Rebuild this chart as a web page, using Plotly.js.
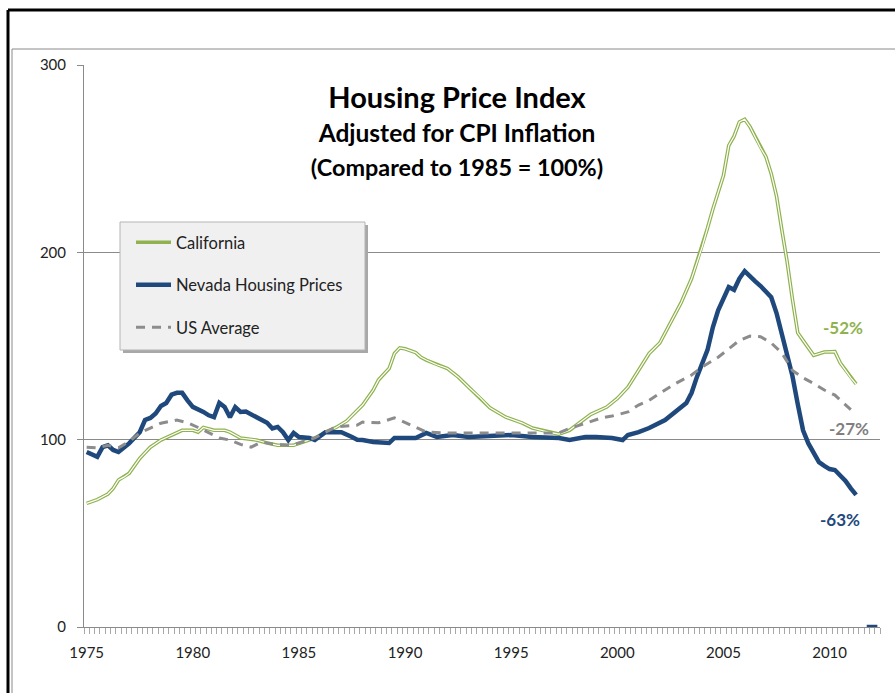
<!DOCTYPE html>
<html><head><meta charset="utf-8">
<script src="https://cdn.plot.ly/plotly-3.0.1.min.js"></script>
<style>html,body{margin:0;padding:0;background:#fff}#chart{width:895px;height:693px}</style>
</head><body><div id="chart"></div>
<script>
// ---- Data ----
const caYears = [1975.0,1975.5,1976.0,1976.25,1976.5,1976.75,1977.0,1977.25,1977.5,1977.75,
  1978.0,1978.5,1979.0,1979.5,1980.0,1980.25,1980.5,1981.0,1981.5,1981.75,
  1982.25,1983.0,1983.5,1984.0,1984.75,1985.25,1985.75,1986.25,1986.75,1987.25,
  1987.5,1987.75,1988.0,1988.5,1988.75,1989.25,1989.5,1989.75,1990.0,1990.5,
  1990.75,1991.0,1991.5,1992.0,1992.5,1993.0,1993.5,1994.0,1994.75,1995.5,
  1996.0,1996.75,1997.25,1997.75,1998.25,1998.75,1999.5,2000.0,2000.5,2001.0,
  2001.5,2002.0,2002.5,2003.0,2003.5,2004.0,2004.25,2004.5,2005.0,2005.25,
  2005.5,2005.75,2006.0,2006.25,2006.75,2007.0,2007.25,2007.5,2007.75,2008.0,
  2008.25,2008.5,2008.75,2009.25,2009.75,2010.25,2010.5,2010.75,2011.0,2011.25];
const caValues = [66,68,71,74,78.5,80,82,86,90,93,
  96,99.8,102.5,105,105,104,106.5,105,105,104,
  100.9,99.8,98.2,97,97,98.8,100.9,104,106.5,110,
  113,116,118.5,126.5,131.9,138,146,149,148.5,146.5,
  144,142.5,140,138,133.5,128,122.8,117,112,109,
  106.2,104,103,105,109.4,113.5,117.4,122,128,137,
  146,151.6,162,173,186,203,213,223,241,257,
  262,269.6,271,267,255.7,251,242,230,212,195,
  175,157,153,145,146.8,147,141,137,133,129.7];

const nvYears = [1975.0,1975.5,1975.75,1976.0,1976.25,1976.5,1977.0,1977.5,1977.75,1978.0,
  1978.25,1978.5,1978.75,1979.0,1979.25,1979.5,1979.75,1980.0,1980.5,1980.75,
  1981.0,1981.25,1981.5,1981.75,1982.0,1982.25,1982.5,1982.75,1983.0,1983.25,
  1983.5,1983.75,1984.0,1984.25,1984.5,1984.75,1985.0,1985.5,1985.75,1986.25,
  1986.5,1986.75,1987.0,1987.5,1987.75,1988.0,1988.5,1989.25,1989.5,1990.5,
  1991.0,1991.5,1992.25,1993.0,1993.75,1995.0,1996.0,1996.5,1997.25,1997.75,
  1998.5,1999.0,1999.75,2000.25,2000.5,2001.0,2001.5,2002.25,2002.75,2003.25,
  2003.5,2003.75,2004.25,2004.5,2004.75,2005.0,2005.25,2005.5,2005.75,2006.0,
  2006.25,2006.5,2006.75,2007.0,2007.25,2007.5,2007.75,2008.0,2008.25,2008.5,
  2008.75,2009.0,2009.25,2009.5,2009.75,2010.0,2010.25,2010.5,2010.75,2011.0,
  2011.25,2011.5,2011.75,2012.0,2012.25];
const nvValues = [93.4,90.8,96,97,94.5,93.4,98,104,110.5,111.6,
  114,118,119.6,124,125,125,121,117.5,114.8,113,
  112,119.6,117.4,112,117.4,114.8,115,113.5,112,110.5,
  109,106,106.8,104,99.8,103.6,101.4,100.9,99.8,104,
  104,103.6,104,101.4,100,99.8,98.8,98.2,100.9,100.9,
  103.6,101.4,102.5,101.4,102,102.5,101.4,101.4,100.9,99.8,
  101.4,101.4,100.9,99.8,102.5,104,106.2,110.5,114.8,119.6,
  125,133.5,147.9,160,169,175,181.5,180,186,190,
  187,184.5,182,179,176,167.6,156,146,134,119,
  105,98,92.5,88,86,84.3,83.8,81,78,74,
  70.5,null,0,0,0];

const usYears = [1975.0,1975.5,1976.0,1976.5,1977.0,1977.5,1978.0,1978.5,1979.25,1979.75,
  1980.25,1980.5,1981.25,1981.75,1982.25,1982.75,1983.25,1983.75,1984.5,1985.0,
  1985.75,1986.25,1986.75,1987.75,1988.0,1988.75,1989.5,1989.75,1990.5,1991.0,
  1992.0,1993.0,1994.0,1995.5,1996.75,1997.25,1997.75,1998.5,1999.25,1999.75,
  2000.5,2001.0,2001.5,2002.25,2002.75,2003.5,2004.0,2004.75,2005.5,2005.75,
  2006.25,2006.75,2007.25,2007.75,2008.25,2008.75,2009.25,2009.75,2010.25,2010.75,
  2011.0];
const usValues = [96,95.6,97,95.6,99,103.6,106.2,108.8,110.5,109,
  106.5,105,100.9,99.8,97.5,96,98.8,97.7,97,98.2,
  100.9,104,106.8,107.8,109.4,109,111.6,110.5,106.8,104,
  103.6,103.6,103.6,104,103.6,103.6,106,109,111.6,112.6,
  114.8,118.5,121,126.5,130,134.5,138.8,144,150.5,153,
  155.3,155,151.6,146.3,137,133,130,126.5,123.8,118.5,
  116];

const seriesNames = ["California", "Nevada Housing Prices", "US Average"];
const tickYears = [1975,1980,1985,1990,1995,2000,2005,2010];
const tickLabels = ["1975","1980","1985","1990","1995","2000","2005","2010"];
const yTicks = [0,100,200,300];
const changeLabels = ["-52%", "-27%", "-63%"];
const titleLines = ["Housing Price Index", "Adjusted for CPI Inflation", "(Compared to 1985 = 100%)"];

// ---- Layout geometry (pixels) ----
const FW = 895, FH = 693;
const ML = 84, MR = 15, MT = 65, MB = 66;
const PW = FW - ML - MR, PH = FH - MT - MB;
const px = x => (x - ML) / PW;
const py = y => (FH - MB - y) / PH;

const FONT = "Lato, 'Open Sans', sans-serif";
const green = "#8fb24e", blue = "#1f497d", grey = "#8c8c8c";

const traces = [
  {x: caYears, y: caValues, name: seriesNames[0], type: "scatter", mode: "lines",
   line: {color: green, width: 3.6}, legendgroup: "ca", hoverinfo: "x+y+name"},
  {x: caYears, y: caValues, name: seriesNames[0], type: "scatter", mode: "lines",
   line: {color: "#ffffff", width: 1.2}, legendgroup: "ca", showlegend: false, hoverinfo: "skip"},
  {x: nvYears, y: nvValues, name: seriesNames[1], type: "scatter", mode: "lines",
   line: {color: blue, width: 4.5}, legendgroup: "nv", connectgaps: false},
  {x: usYears, y: usValues, name: seriesNames[2], type: "scatter", mode: "lines",
   line: {color: grey, width: 3, dash: "9px,7px"}, legendgroup: "us"}
];

const lineShape = (x0, y0, x1, y1, color, width) => ({
  type: "line", xref: "paper", yref: "paper", x0: px(x0), y0: py(y0), x1: px(x1), y1: py(y1),
  line: {color: color, width: width}, layer: "above"});

const rectShape = (x0, y0, x1, y1, fill, lineColor, lineWidth) => ({
  type: "rect", xref: "paper", yref: "paper", x0: px(x0), y0: py(y0), x1: px(x1), y1: py(y1),
  fillcolor: fill, line: {color: lineColor, width: lineWidth}, layer: "above"});

const shapes = [
  lineShape(8, 10, 895, 10, "#000", 3),
  lineShape(8, 10, 8, 693, "#000", 3),
  lineShape(12, 49, 895, 49, "#8a8a8a", 1),
  lineShape(12, 49, 12, 693, "#8a8a8a", 1),
  // legend box shadow + box
  rectShape(123, 225, 368, 353, "#a8a8a8", "#a8a8a8", 0),
  rectShape(120, 222, 365, 350, "#f0f0f0", "#b4b4b4", 1)
];

const annotations = [
  {text: "<b>" + changeLabels[0] + "</b>", x: px(843), y: py(327), xref: "paper", yref: "paper",
   xanchor: "center", yanchor: "middle", showarrow: false, font: {family: FONT, size: 17, color: green}},
  {text: "<b>" + changeLabels[1] + "</b>", x: px(849), y: py(428), xref: "paper", yref: "paper",
   xanchor: "center", yanchor: "middle", showarrow: false, font: {family: FONT, size: 17, color: "#7f7f7f"}},
  {text: "<b>" + changeLabels[2] + "</b>", x: px(840), y: py(519), xref: "paper", yref: "paper",
   xanchor: "center", yanchor: "middle", showarrow: false, font: {family: FONT, size: 17, color: blue}}
];

const layout = {
  width: FW, height: FH,
  margin: {l: ML, r: MR, t: MT, b: MB},
  paper_bgcolor: "#ffffff", plot_bgcolor: "#ffffff",
  font: {family: FONT, size: 15, color: "#222"},
  title: {
    text: "<span style='font-size:29px'><b>" + titleLines[0] + "</b></span><br><span style='font-size:24.5px'><b>" +
          titleLines[1] + "</b></span><br><span style='font-size:23.4px'><b>" + titleLines[2] + "</b></span>",
    font: {family: FONT, size: 26, color: "#000"},
    x: px(457), xref: "paper", xanchor: "center",
    y: 1 - 108 / FH, yref: "container", yanchor: "top"
  },
  xaxis: {
    range: [1974.875, 2012.375], tickmode: "array", tickvals: tickYears, ticktext: tickLabels,
    ticks: "", showgrid: false, zeroline: false, showline: true, linecolor: "#8a8a8a", linewidth: 1,
    ticklabelstandoff: 12, tickfont: {family: FONT, size: 15, color: "#222"},
    minor: {ticks: "outside", ticklen: 6, tickcolor: "#a8a8a8", tick0: 1974.875, dtick: 0.25, showgrid: false}
  },
  yaxis: {
    range: [0, 300], tickmode: "array", tickvals: yTicks, ticktext: yTicks.map(String),
    showgrid: true, gridcolor: "#8a8a8a", gridwidth: 1, zeroline: false,
    showline: true, linecolor: "#8a8a8a", ticks: "outside", ticklen: 6, tickcolor: "#8a8a8a",
    ticklabelstandoff: 8, tickfont: {family: FONT, size: 15, color: "#222"}
  },
  legend: {
    x: px(131), y: py(225), xanchor: "left", yanchor: "top",
    bgcolor: "rgba(0,0,0,0)", borderwidth: 0,
    font: {family: FONT, size: 16.5, color: "#222"},
    traceorder: "grouped", tracegroupgap: 18, itemwidth: 35
  },
  shapes: shapes,
  annotations: annotations,
  showlegend: true
};

Plotly.newPlot("chart", traces, layout, {displayModeBar: false, staticPlot: true});
</script></body></html>
